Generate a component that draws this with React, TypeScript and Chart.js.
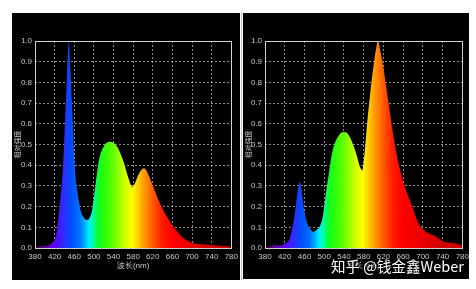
import React, { useEffect, useRef } from 'react';
import { Chart, registerables } from 'chart.js';

Chart.register(...registerables);

// ---- data ----
const leftWavelengths = [380, 390, 400, 410, 415, 420, 425, 431, 437, 440, 443, 446, 449, 452, 455, 458, 461, 464, 467, 473, 480, 487, 492, 497, 503, 510, 520, 533, 547, 560, 570, 578, 583, 590, 596, 602, 608, 617, 630, 643, 657, 670, 683, 703, 720, 737, 755, 770, 780];
const leftIntensity = [0.005, 0.008, 0.012, 0.015, 0.025, 0.04, 0.09, 0.22, 0.39, 0.55, 0.71, 0.88, 1.0, 0.87, 0.71, 0.55, 0.39, 0.31, 0.26, 0.18, 0.145, 0.135, 0.15, 0.19, 0.3, 0.42, 0.49, 0.513, 0.49, 0.42, 0.34, 0.296, 0.31, 0.35, 0.375, 0.385, 0.37, 0.32, 0.24, 0.175, 0.12, 0.08, 0.047, 0.023, 0.018, 0.015, 0.012, 0.01, 0.008];

const rightWavelengths = [380, 390, 400, 410, 420, 430, 440, 445, 450, 454, 457, 462, 467, 472, 477, 483, 490, 497, 503, 510, 517, 530, 540, 550, 563, 573, 577, 582, 587, 593, 600, 605, 609, 614, 620, 630, 640, 650, 663, 677, 690, 703, 713, 723, 733, 743, 753, 763, 770, 780];
const rightIntensity = [0.005, 0.01, 0.016, 0.012, 0.02, 0.046, 0.16, 0.25, 0.32, 0.28, 0.22, 0.15, 0.11, 0.09, 0.078, 0.085, 0.1, 0.15, 0.256, 0.37, 0.47, 0.545, 0.56, 0.545, 0.47, 0.39, 0.375, 0.46, 0.6, 0.74, 0.88, 0.96, 1.0, 0.95, 0.87, 0.71, 0.545, 0.415, 0.3, 0.21, 0.125, 0.085, 0.07, 0.06, 0.045, 0.03, 0.027, 0.025, 0.02, 0.012];

const xMin = 380;
const xMax = 780;
const xStep = 40;
const yMin = 0;
const yMax = 1;
const yStep = 0.1;

const yAxisTitle = '相对强度';
const xAxisTitle = '波长(nm)';
const watermarkText = '知乎 @钱金鑫Weber';

// wavelength -> colour stops for the spectral fill
const spectrumNm = [380, 400, 420, 440, 455, 470, 480, 490, 500, 510, 530, 550, 565, 578, 590, 605, 620, 640, 660, 700, 780];
const spectrumColors = ['#3a0040', '#5a0090', '#6000ff', '#2a30ff', '#0050ff', '#0070ff', '#00a8ff', '#00f0ff', '#00ff90', '#10ff20', '#40ff00', '#90ff00', '#d8ff00', '#ffff00', '#ffcc00', '#ff9000', '#ff5a00', '#ff1a00', '#ff0000', '#e80000', '#c00000'];

const TEXT = '#c8c8c8';
const FONT = "'Liberation Sans', Arial, sans-serif";

const framePlugin = {
  id: 'frame',
  afterDatasetsDraw(chart: any) {
    const { ctx, chartArea } = chart;
    ctx.save();
    ctx.strokeStyle = '#d0d0d0';
    ctx.lineWidth = 1;
    ctx.setLineDash([]);
    ctx.strokeRect(Math.round(chartArea.left) + 0.5, Math.round(chartArea.top) + 0.5, Math.round(chartArea.right - chartArea.left), Math.round(chartArea.bottom - chartArea.top));
    ctx.restore();
  },
};

function SpectrumChart(props: { wl: number[]; vals: number[]; width: number; height: number; yWidth: number; padRight: number }) {
  const ref = useRef<HTMLCanvasElement>(null);
  useEffect(() => {
    if (!ref.current) return;
    const points = props.wl.map((x, i) => ({ x, y: props.vals[i] }));
    const chart = new Chart(ref.current, {
      type: 'line',
      data: {
        datasets: [
          {
            data: points,
            fill: 'origin',
            borderWidth: 0,
            pointRadius: 0,
            cubicInterpolationMode: 'monotone',
            backgroundColor: (c: any) => {
              const ch = c.chart;
              const area = ch.chartArea;
              if (!area || !ch.scales.x) return 'transparent';
              const x0 = ch.scales.x.getPixelForValue(xMin);
              const x1 = ch.scales.x.getPixelForValue(xMax);
              const g = ch.ctx.createLinearGradient(x0, 0, x1, 0);
              spectrumNm.forEach((nm, i) => g.addColorStop((nm - xMin) / (xMax - xMin), spectrumColors[i]));
              return g;
            },
          } as any,
        ],
      },
      options: {
        animation: false,
        responsive: false,
        devicePixelRatio: 1,
        layout: { padding: { left: 0, right: props.padRight, top: 28, bottom: 0 } },
        plugins: { legend: { display: false }, tooltip: { enabled: false } },
        scales: {
          x: {
            type: 'linear',
            min: xMin,
            max: xMax,
            afterFit: (s: any) => { s.height = 32; },
            ticks: { stepSize: xStep, autoSkip: false, maxRotation: 0, color: TEXT, font: { family: FONT, size: 8 }, padding: 4 },
            grid: { color: 'rgba(255,255,255,0.55)', drawTicks: false, lineWidth: 1 },
            border: { display: false, dash: [2, 2] },
            title: { display: true, text: xAxisTitle, color: TEXT, font: { family: FONT, size: 8 }, padding: { top: 0, bottom: 9 } },
          },
          y: {
            type: 'linear',
            min: yMin,
            max: yMax,
            afterFit: (s: any) => { s.width = props.yWidth; },
            ticks: { stepSize: yStep, color: TEXT, font: { family: FONT, size: 8 }, padding: 3, callback: (v: any) => Number(v).toFixed(1) },
            grid: { color: 'rgba(255,255,255,0.55)', drawTicks: false, lineWidth: 1 },
            border: { display: false, dash: [2, 2] },
            title: { display: true, text: yAxisTitle, color: TEXT, font: { family: "'Noto Sans CJK SC', sans-serif", size: 7 }, padding: { top: 1, bottom: 0 } },
          },
        },
      } as any,
      plugins: [framePlugin],
    });
    return () => chart.destroy();
  }, []);
  return <canvas ref={ref} width={props.width} height={props.height} style={{ width: props.width, height: props.height, display: 'block' }} />;
}

export default function App() {
  return (
    <div style={{ position: 'fixed', left: 0, top: 0, width: 476, height: 289, background: '#fff', overflow: 'hidden' }}>
      <div style={{ position: 'absolute', left: 12, top: 13, width: 228, height: 267, background: '#000' }} />
      <div style={{ position: 'absolute', left: 241, top: 13, width: 1, height: 267, background: '#bbb' }} />
      <div style={{ position: 'absolute', left: 243, top: 13, width: 226, height: 266, background: '#000' }} />
      <div style={{ position: 'absolute', left: 12, top: 13 }}>
        <SpectrumChart wl={leftWavelengths} vals={leftIntensity} width={230} height={267} yWidth={23} padRight={8} />
      </div>
      <div style={{ position: 'absolute', left: 243, top: 13 }}>
        <SpectrumChart wl={rightWavelengths} vals={rightIntensity} width={230} height={267} yWidth={22} padRight={8} />
      </div>
      <div style={{ position: 'absolute', left: 331, top: 257, color: '#fff', fontFamily: "'Noto Sans CJK SC', sans-serif", fontSize: 14.5, lineHeight: '18px', whiteSpace: 'nowrap', textShadow: '0 0 2px #000, 1px 1px 2px #000' }}>
        {watermarkText}
      </div>
    </div>
  );
}
